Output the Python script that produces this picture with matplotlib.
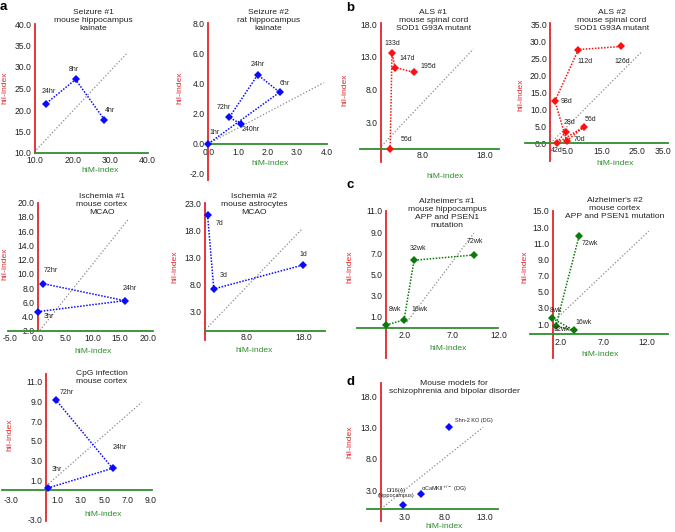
import matplotlib
matplotlib.use('Agg')
import matplotlib.pyplot as plt
from matplotlib.ticker import FormatStrFormatter

plt.rcParams['font.family'] = ['Liberation Sans', 'DejaVu Sans']

W, H = 675, 532
fig = plt.figure(figsize=(W / 100, H / 100), dpi=100)

RED = '#e3262a'
GREEN = '#2f8f2f'
BLUE = '#0a0aff'
MRED = '#ff1010'
MGREEN = '#0a7a0a'

# ---------------- data ----------------
seiz1_labels = ['4hr', '8hr', '24hr']
seiz1_him = [28.5, 20.8, 12.8]
seiz1_hii = [17.7, 27.1, 21.4]

seiz2_labels = ['1hr', '6hr', '24hr', '72hr', '240hr']
seiz2_him = [0.0, 2.41, 1.67, 0.71, 1.10]
seiz2_hii = [0.0, 3.42, 4.58, 1.75, 1.31]

isch1_labels = ['3hr', '24hr', '72hr']
isch1_him = [0.0, 15.8, 1.0]
isch1_hii = [4.71, 6.26, 8.64]

isch2_labels = ['1d', '3d', '7d']
isch2_him = [17.9, 2.1, 1.0]
isch2_hii = [11.6, 7.2, 20.8]

cpg_labels = ['3hr', '24hr', '72hr']
cpg_him = [0.15, 5.7, 0.86]
cpg_hii = [0.18, 2.19, 9.13]

als1_labels = ['56d', '133d', '147d', '195d']
als1_him = [2.7, 3.0, 3.5, 6.5]
als1_hii = [-1.0, 13.6, 11.4, 10.7]

als2_labels = ['28d', '42d', '56d', '70d', '98d', '112d', '126d']
als2_him = [4.4, 1.8, 9.7, 4.7, 1.3, 8.1, 20.4]
als2_hii = [3.4, 0.0, 4.8, 0.7, 12.4, 27.5, 28.4]

alz1_labels = ['8wk', '16wk', '32wk', '72wk']
alz1_him = [0.0, 1.9, 2.96, 9.3]
alz1_hii = [0.22, 0.7, 6.34, 6.84]

alz2_labels = ['8wk', '16wk', '32wk', '72wk']
alz2_him = [1.0, 3.5, 1.4, 4.1]
alz2_hii = [1.7, 0.2, 0.74, 11.9]

scz_labels = ['Df16(A)\n(hippocampus)', 'αCaMKII$^{+/-}$ (DG)', 'Shn-2 KO (DG)']
scz_him = [2.8, 5.0, 8.5]
scz_hii = [0.6, 2.36, 13.0]

# reference (hiM = hiI) lines
diag_seiz1 = ([10.4, 34.7], [10.8, 33.4])
diag_seiz2 = ([0.0, 3.9], [0.0, 4.05])
diag_isch1 = ([0.4, 16.5], [2.1, 17.7])
diag_isch2 = ([1.1, 17.8], [0.2, 18.3])
diag_cpg = ([0.2, 8.2], [0.6, 8.9])
diag_als1 = ([1.3, 16.1], [-0.5, 14.2])
diag_als2 = ([0.0, 26.5], [0.0, 26.9])
diag_alz1 = ([2.2, 9.3], [0.5, 8.9])
diag_alz2 = ([1.7, 12.2], [1.9, 12.5])
diag_scz = ([0.0, 12.75], [0.0, 13.0])


def fx(px):
    return px / W


def fy(py):
    return 1 - py / H


def panel(cfg):
    xa, pxa, xb, pxb = cfg['xmap']
    ya, pya, yb, pyb = cfg['ymap']
    sx = (pxb - pxa) / (xb - xa)
    sy = (pya - pyb) / (yb - ya)
    x0, x1 = cfg['xlim']
    y0, y1 = cfg['ylim']
    left = pxa + (x0 - xa) * sx
    right = pxa + (x1 - xa) * sx
    bottom = pya - (y0 - ya) * sy
    top = pya - (y1 - ya) * sy
    ax = fig.add_axes([left / W, 1 - bottom / H, (right - left) / W, (bottom - top) / H])
    ax.set_xlim(x0, x1)
    ax.set_ylim(y0, y1)
    ax.patch.set_visible(False)
    for s in ['top', 'right']:
        ax.spines[s].set_visible(False)
    ax.spines['left'].set_position(('data', cfg['cross'][0]))
    ax.spines['left'].set_bounds(*cfg['redb'])
    ax.spines['left'].set_color(RED)
    ax.spines['left'].set_linewidth(1.3)
    ax.spines['bottom'].set_position(('data', cfg['cross'][1]))
    ax.spines['bottom'].set_bounds(*cfg['greenb'])
    ax.spines['bottom'].set_color(GREEN)
    ax.spines['bottom'].set_linewidth(1.3)
    ax.set_xticks(cfg['xticks'])
    ax.set_yticks(cfg['yticks'])
    ax.xaxis.set_major_formatter(FormatStrFormatter('%.1f'))
    ax.yaxis.set_major_formatter(FormatStrFormatter('%.1f'))
    ax.tick_params(length=0, labelsize=6.2, labelcolor='#222222')
    ax.tick_params(axis='x', pad=cfg['xpad'])
    ax.tick_params(axis='y', pad=2.5)
    if cfg.get('last_right'):
        lab = ax.get_xticklabels()[-1]
        lab.set_horizontalalignment('right')

    dx, dy = cfg['diag']
    ax.plot(dx, dy, color='#8a8a8a', ls=(0, (1, 1.6)), lw=0.9, zorder=1)
    ls = (0, (1, 1)) if cfg.get('line', True) else 'none'
    ax.plot(cfg['x'], cfg['y'], color=cfg['color'], ls=ls, lw=1.1, marker='D',
            ms=4.2, mew=0, clip_on=False, zorder=3)
    for lbl, xv, yv, off in zip(cfg['labels'], cfg['x'], cfg['y'], cfg['offs']):
        ax.annotate(lbl, (xv, yv), xytext=off, textcoords='offset pixels',
                    ha='center', va='center', fontsize=cfg.get('lfs', 5.0),
                    color='#222222', linespacing=1.1)

    tx, ty = cfg['title_pos']
    fig.text(fx(tx), fy(ty), cfg['title'], ha='center', va='center', fontsize=6.1,
             color='#222222', linespacing=1.2)
    lx, ly = cfg['xlabel_pos']
    fig.text(fx(lx), fy(ly), 'hiM-index', ha='center', va='center', fontsize=6.1, color=GREEN)
    vx, vy = cfg['ylabel_pos']
    fig.text(fx(vx), fy(vy), 'hiI-index', ha='center', va='center', fontsize=6.1,
             color=RED, rotation=90)
    return ax


panels = [
    dict(title='Seizure #1\nmouse hippocampus\nkainate', title_pos=(93.3, 20.5),
         xmap=(10, 35, 40, 147.7), ymap=(10, 153, 40, 24), xlim=(9, 42), ylim=(9, 41),
         cross=(10, 10), redb=(10, 40), greenb=(10, 40),
         xticks=[10, 20, 30, 40], yticks=[10, 15, 20, 25, 30, 35, 40], xpad=2.2,
         xlabel_pos=(100, 171), ylabel_pos=(5, 88), diag=diag_seiz1,
         x=seiz1_him, y=seiz1_hii, labels=seiz1_labels, color=BLUE,
         offs=[(6, 9), (-2, 10), (3, 12.6)]),
    dict(title='Seizure #2\nrat hippocampus\nkainate', title_pos=(268.3, 20),
         xmap=(0, 208.3, 4, 326.7), ymap=(0, 143.7, 8, 23.3), xlim=(-0.3, 4.2), ylim=(-2.5, 8.3),
         cross=(0, 0), redb=(-2.4, 8), greenb=(0, 4),
         xticks=[0, 1, 2, 3, 4], yticks=[-2, 0, 2, 4, 6, 8], xpad=3,
         xlabel_pos=(270, 163.3), ylabel_pos=(180, 88), diag=diag_seiz2,
         x=seiz2_him, y=seiz2_hii, labels=seiz2_labels, color=BLUE,
         offs=[(6, 11.4), (5.3, 8.3), (0, 10.4), (-6, 10), (10, -6)]),
    dict(title='Ischemia #1\nmouse cortex\nMCAO', title_pos=(101.7, 204.3),
         xmap=(0, 37.7, 20, 147.7), ymap=(2, 331, 20, 202.7), xlim=(-5.6, 21.2), ylim=(1.5, 20.3),
         cross=(0, 2), redb=(2, 20), greenb=(-5.4, 21),
         xticks=[-5, 0, 5, 10, 15, 20], yticks=[2, 4, 6, 8, 10, 12, 14, 16, 18, 20], xpad=2.5,
         xlabel_pos=(93.3, 351.7), ylabel_pos=(5, 264), diag=diag_isch1,
         x=isch1_him, y=isch1_hii, labels=isch1_labels, color=BLUE,
         offs=[(11.6, -5.3), (5.3, 12.4), (7.7, 13)]),
    dict(title='Ischemia #2\nmouse astrocytes\nMCAO', title_pos=(254, 204.3),
         xmap=(8, 247, 18, 303.3), ymap=(3, 311.7, 23, 203.3), xlim=(0, 22), ylim=(-2.5, 23.3),
         cross=(0.5, -0.5), redb=(-2.2, 23), greenb=(0.5, 21.8),
         xticks=[8, 18], yticks=[3, 8, 13, 18, 23], xpad=2,
         xlabel_pos=(254, 351), ylabel_pos=(175, 266.7), diag=diag_isch2,
         x=isch2_him, y=isch2_hii, labels=isch2_labels, color=BLUE,
         offs=[(0.6, 10.7), (9.6, 13), (11.6, -8.3)]),
    dict(title='CpG infection\nmouse cortex', title_pos=(101.7, 377.3),
         xmap=(1, 57.7, 9, 151), ymap=(1, 480, 11, 381.7), xlim=(-4, 9.3), ylim=(-3.3, 12),
         cross=(0, 0), redb=(-3.2, 11.8), greenb=(-3.8, 9.1),
         xticks=[-3, 1, 3, 5, 7, 9], yticks=[-3, 1, 3, 5, 7, 9, 11], xpad=4.5,
         xlabel_pos=(103.3, 514), ylabel_pos=(10, 435), diag=diag_cpg,
         x=cpg_him, y=cpg_hii, labels=cpg_labels, color=BLUE,
         offs=[(9, 19), (7.3, 21), (10.7, 7.7)]),
    dict(title='ALS #1\nmouse spinal cord\nSOD1 G93A mutant', title_pos=(433.3, 21),
         xmap=(8, 423, 18, 485), ymap=(3, 123, 18, 24), xlim=(-2.5, 20.5), ylim=(-3, 18.5),
         cross=(1.2, -1), redb=(-2.86, 18.1), greenb=(-2.2, 20.3),
         xticks=[8, 18], yticks=[3, 8, 13, 18], xpad=1,
         xlabel_pos=(445, 176.7), ylabel_pos=(345, 90), diag=diag_als1,
         x=als1_him, y=als1_hii, labels=als1_labels, color=MRED,
         offs=[(16.7, 10), (0, 10), (11.7, 8.7), (15, 5.6)]),
    dict(title='ALS #2\nmouse spinal cord\nSOD1 G93A mutant', title_pos=(611.7, 20.3),
         xmap=(5, 567.7, 25, 636.7), ymap=(0, 143.3, 35, 24), xlim=(-8, 35.5), ylim=(-5.5, 35.5),
         cross=(0, 0), redb=(-5.3, 35.2), greenb=(-7.4, 34),
         xticks=[5, 15, 25, 35], yticks=[0, 5, 10, 15, 20, 25, 30, 35], xpad=3,
         last_right=True,
         xlabel_pos=(615, 163.3), ylabel_pos=(520.7, 95), diag=diag_als2,
         x=als2_him, y=als2_hii, labels=als2_labels, color=MRED,
         offs=[(3.6, 9.4), (0, -7.7), (6.7, 7.7), (12.6, 1.7), (12, 0), (6.7, -12), (1, -15)]),
    dict(title="Alzheimer's #1\nmouse hippocampus\nAPP and PSEN1\nmutation", title_pos=(447.3, 213.8),
         xmap=(2, 405, 12, 499.3), ymap=(1, 316.7, 11, 211), xlim=(-3.3, 12.2), ylim=(-3, 11.2),
         cross=(0, -0.1), redb=(-2.9, 11), greenb=(-3.1, 11.9),
         xticks=[2, 7, 12], yticks=[1, 3, 5, 7, 9, 11], xpad=2,
         xlabel_pos=(448.3, 348.3), ylabel_pos=(350, 266.7), diag=diag_alz1,
         x=alz1_him, y=alz1_hii, labels=alz1_labels, color=MGREEN,
         offs=[(9, 15), (16, 10), (4.3, 11.3), (1, 13.3)]),
    dict(title="Alzheimer's #2\nmouse cortex\nAPP and PSEN1 mutation", title_pos=(615, 208.7),
         xmap=(2, 561, 12, 647), ymap=(1, 324, 15, 211), xlim=(-1.8, 14.6), ylim=(-3.3, 15.2),
         cross=(1.07, -0.24), redb=(-3.2, 15), greenb=(-1.6, 14.4),
         xticks=[2, 7, 12], yticks=[1, 3, 5, 7, 9, 11, 13, 15], xpad=3,
         xlabel_pos=(600, 354), ylabel_pos=(525, 266.7), diag=diag_alz2,
         x=alz2_him, y=alz2_hii, labels=alz2_labels, color=MGREEN,
         offs=[(4, 8), (10, 7.6), (6, -3.3), (10.3, -7.6)]),
    dict(title='Mouse models for\nschizophrenia and bipolar disorder', title_pos=(454.3, 387.7),
         xmap=(3, 405, 13, 485), ymap=(3, 490, 18, 396), xlim=(-2, 15), ylim=(-2.2, 20.2),
         cross=(0, 0), redb=(-2, 20), greenb=(-1.75, 14.6),
         xticks=[3, 8, 13], yticks=[3, 8, 13, 18], xpad=3,
         xlabel_pos=(444.3, 526), ylabel_pos=(350, 441.7), diag=diag_scz,
         x=scz_him, y=scz_hii, labels=scz_labels, color=BLUE, line=False, lfs=4.0,
         offs=[(-7, 12.3), (23, 5), (24.6, 7)]),
]

for cfg in panels:
    panel(cfg)

for letter, (px, py) in {'a': (0, 10), 'b': (346.5, 11), 'c': (346.5, 188), 'd': (346.5, 385)}.items():
    fig.text(fx(px), fy(py), letter, ha='left', va='baseline', fontsize=9.5,
             fontweight='bold', color='black')

fig.savefig('out.png', dpi=100)
